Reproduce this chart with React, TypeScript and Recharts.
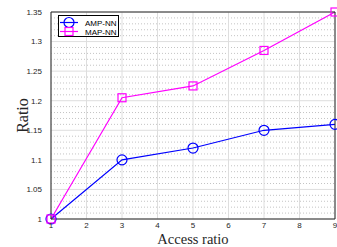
import React from 'react';
import { LineChart, Line, XAxis, YAxis, CartesianGrid, Legend } from 'recharts';

// values
const accessRatio = [1, 3, 5, 7, 9];
const ampNN = [1, 1.1, 1.12, 1.15, 1.16];
const mapNN = [1, 1.205, 1.225, 1.285, 1.35];

const xTicks = [1, 2, 3, 4, 5, 6, 7, 8, 9];
const yTicks = [1, 1.05, 1.1, 1.15, 1.2, 1.25, 1.3, 1.35];
const yTickLabels = ['1', '1.05', '1.1', '1.15', '1.2', '1.25', '1.3', '1.35'];
const yMinorTicks = [
  1.01, 1.02, 1.03, 1.04, 1.06, 1.07, 1.08, 1.09, 1.11, 1.12, 1.13, 1.14,
  1.16, 1.17, 1.18, 1.19, 1.21, 1.22, 1.23, 1.24, 1.26, 1.27, 1.28, 1.29,
  1.31, 1.32, 1.33, 1.34,
];
const yAllTicks = [...yTicks, ...yMinorTicks].sort((a, b) => a - b);

const BLUE = '#0000ff';
const MAGENTA = '#ff00ff';
const TICK_FONT = '"Liberation Sans", Arial, sans-serif';
const LABEL_FONT = '"Liberation Serif", "DejaVu Serif", serif';

const data = accessRatio.map((x, i) => ({ x, amp: ampNN[i], map: mapNN[i] }));

const CircleDot = (props: any) => {
  const { cx, cy } = props;
  if (cx == null || cy == null) return null;
  return <circle cx={cx} cy={cy} r={5} fill="none" stroke={BLUE} strokeWidth={1.2} />;
};

const SquareDot = (props: any) => {
  const { cx, cy } = props;
  if (cx == null || cy == null) return null;
  return <rect x={cx - 4} y={cy - 4} width={8} height={8} fill="none" stroke={MAGENTA} strokeWidth={1.2} />;
};

const LegendBox = () => (
  <svg width={62} height={23} style={{ display: 'block' }}>
    <rect x={0.5} y={0.5} width={60} height={21} fill="#fff" stroke="#000" strokeWidth={1} />
    <line x1={2} y1={7.5} x2={20} y2={7.5} stroke={BLUE} strokeWidth={1.2} />
    <circle cx={11} cy={7.5} r={5} fill="none" stroke={BLUE} strokeWidth={1.2} />
    <text x={27} y={10.5} fontSize={8} fontFamily={TICK_FONT} fill="#000">AMP-NN</text>
    <line x1={2} y1={16.5} x2={20} y2={16.5} stroke={MAGENTA} strokeWidth={1.2} />
    <rect x={7} y={12.5} width={8} height={8} fill="none" stroke={MAGENTA} strokeWidth={1.2} />
    <text x={27} y={19.5} fontSize={8} fontFamily={TICK_FONT} fill="#000">MAP-NN</text>
  </svg>
);

export default function App() {
  const tickStyle = { fontSize: 8, fontFamily: TICK_FONT, fill: '#262626' };
  return (
    <div style={{ position: 'absolute', left: 0, top: 0, width: 337, height: 247, background: '#fff' }}>
      <LineChart width={337} height={247} data={data} margin={{ top: 12, right: 2, left: 0, bottom: 0 }}>
        <CartesianGrid
          horizontalValues={yMinorTicks}
          vertical={false}
          stroke="#c4c4c4"
          strokeDasharray="1 2"
          yAxisId="left"
          xAxisId="bottom"
        />
        <CartesianGrid
          horizontalValues={yTicks}
          verticalValues={xTicks}
          stroke="#dedede"
          yAxisId="left"
          xAxisId="bottom"
        />
        <XAxis
          xAxisId="bottom"
          dataKey="x"
          type="number"
          domain={[1, 9]}
          ticks={xTicks}
          interval={0}
          height={28}
          tickLine={false}
          tickSize={0}
          axisLine={{ stroke: '#262626' }}
          tick={tickStyle}
          tickMargin={3}
          label={{ value: 'Access ratio', position: 'center', dy: 5.5, fontSize: 14.5, fontFamily: LABEL_FONT, fill: '#262626' }}
        />
        <XAxis
          xAxisId="bottomTicks"
          dataKey="x"
          type="number"
          domain={[1, 9]}
          ticks={xTicks}
          orientation="bottom"
          mirror
          height={1}
          tick={false}
          tickSize={3}
          axisLine={false}
          tickLine={{ stroke: '#262626' }}
        />
        <XAxis
          xAxisId="top"
          dataKey="x"
          type="number"
          domain={[1, 9]}
          ticks={xTicks}
          orientation="top"
          mirror
          height={1}
          tick={false}
          tickSize={3}
          axisLine={{ stroke: '#262626' }}
          tickLine={{ stroke: '#262626' }}
        />
        <YAxis
          yAxisId="left"
          type="number"
          domain={[1, 1.35]}
          ticks={yTicks}
          interval={0}
          width={51}
          tickLine={false}
          axisLine={{ stroke: '#262626' }}
          tick={tickStyle}
          tickMargin={3}
          tickFormatter={(v: number) => yTickLabels[yTicks.findIndex((t) => Math.abs(t - v) < 1e-6)] ?? String(v)}
          label={{ value: 'Ratio', angle: -90, position: 'center', dx: -3, fontSize: 16, fontFamily: LABEL_FONT, fill: '#262626' }}
        />
        <YAxis
          yAxisId="leftTicks"
          type="number"
          domain={[1, 1.35]}
          ticks={yAllTicks}
          interval={0}
          orientation="left"
          mirror
          width={1}
          tick={false}
          tickSize={2}
          axisLine={false}
          tickLine={{ stroke: '#262626' }}
        />
        <YAxis
          yAxisId="right"
          type="number"
          domain={[1, 1.35]}
          ticks={yAllTicks}
          interval={0}
          orientation="right"
          mirror
          width={1}
          tick={false}
          tickSize={2}
          axisLine={{ stroke: '#262626' }}
          tickLine={{ stroke: '#262626' }}
        />
        <Legend
          layout="vertical"
          align="center"
          verticalAlign="middle"
          content={() => <LegendBox />}
          wrapperStyle={{ position: 'absolute', left: 58, top: 15, width: 62, height: 23 }}
        />
        <Line
          xAxisId="bottom"
          yAxisId="left"
          dataKey="amp"
          name="AMP-NN"
          type="linear"
          stroke={BLUE}
          strokeWidth={1.2}
          dot={<CircleDot />}
          isAnimationActive={false}
        />
        <Line
          xAxisId="bottom"
          yAxisId="left"
          dataKey="map"
          name="MAP-NN"
          type="linear"
          stroke={MAGENTA}
          strokeWidth={1.2}
          dot={<SquareDot />}
          isAnimationActive={false}
        />
      </LineChart>
    </div>
  );
}
